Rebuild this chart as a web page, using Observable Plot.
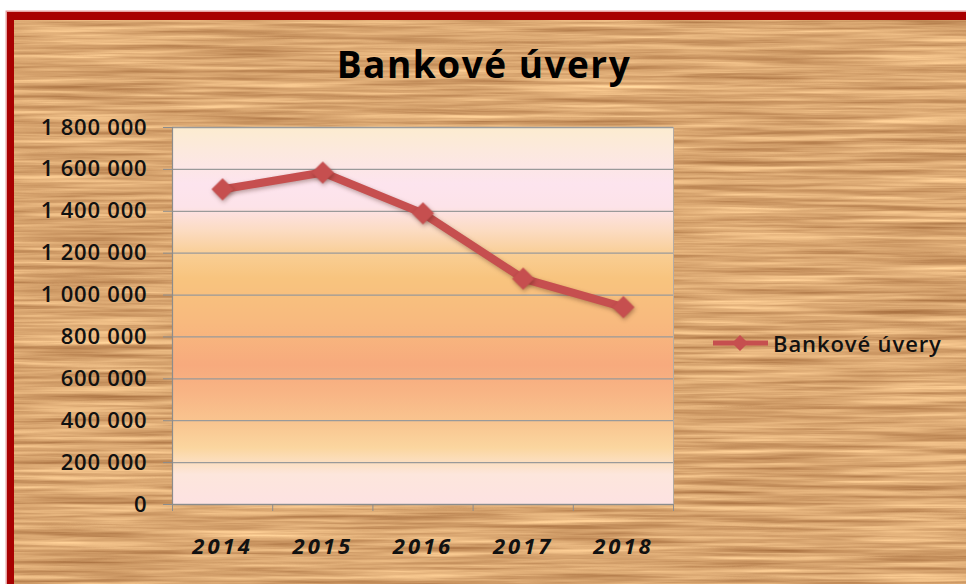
<!DOCTYPE html>
<html>
<head>
<meta charset="utf-8">
<script src="https://cdn.jsdelivr.net/npm/d3@7"></script>
<script src="https://cdn.jsdelivr.net/npm/@observablehq/plot@0.6"></script>
<style>
  html, body { margin: 0; padding: 0; background: #fff; }
  body { width: 966px; height: 584px; overflow: hidden; position: relative; font-family: "Open Sans", sans-serif; }
  #frame { position: absolute; left: 7px; top: 12px; width: 1000px; height: 640px;
           border: 7px solid #a80000; border-top-width: 8px; box-shadow: 0 0 0 1.5px #e6a0a0; overflow: hidden; }
  #wood { position: absolute; left: 0; top: 0; }
  #title { position: absolute; left: 0; width: 968px; top: 45px; text-align: center;
           font-size: 37px; line-height: 37px; font-weight: 700; letter-spacing: 1.5px; color: #000; }
  #chart { position: absolute; left: 0; top: 0; }
  #legend { position: absolute; left: 713px; top: 332px; height: 22px; display: flex; align-items: center; }
  #legend span { font-size: 22px; line-height: 22px; font-weight: 600; color: #111; margin-left: 4px; letter-spacing: 0.9px; }
  #chart g[aria-label="dot"], #chart g[aria-label="line"] { filter: drop-shadow(1px 2px 2px rgba(60,20,10,0.35)); }
  #chart g[aria-label="x-axis tick label"] text { letter-spacing: 3px; }
  #chart g[aria-label="y-axis tick label"] text { letter-spacing: 0.8px; }
</style>
</head>
<body>
<div id="frame">
  <svg id="wood" width="1000" height="640">
    <filter id="woodf" x="0" y="0" width="100%" height="100%" color-interpolation-filters="sRGB">
      <feTurbulence type="fractalNoise" baseFrequency="0.006 0.2" numOctaves="4" seed="7"/>
      <feColorMatrix type="matrix" values="0.45 0 0 0 0.625  0.5 0 0 0 0.4  0.45 0 0 0 0.215  0 0 0 0 1"/>
    </filter>
    <rect width="1000" height="640" filter="url(#woodf)"/>
  </svg>
</div>
<div id="title">Bankové úvery</div>
<div id="chart"></div>
<div id="legend"></div>
<script>
// Data
const years = [2014, 2015, 2016, 2017, 2018];
const values = [1505000, 1585000, 1390000, 1078000, 942000];
const yTicks = [0, 200000, 400000, 600000, 800000, 1000000, 1200000, 1400000, 1600000, 1800000];
const seriesName = "Bankové úvery";
const lineColor = "#c64f4f";

const data = years.map((y, i) => ({year: y, value: values[i]}));
const boundaries = [years[0] - 0.5, ...years.map(y => y + 0.5)];

const gradStops = [
  [0.00, "#fcecd0"], [0.06, "#fce9dd"], [0.15, "#fde4ee"], [0.21, "#fde3e9"],
  [0.27, "#fcdcc4"], [0.34, "#f9cd92"], [0.40, "#f8c47e"], [0.52, "#f8b97e"],
  [0.63, "#f7aa7d"], [0.70, "#f8b484"], [0.78, "#f9c48f"], [0.85, "#fbd69f"],
  [0.92, "#fde6dc"], [1.00, "#fde2e2"]
];

function gradientDefs() {
  const ns = "http://www.w3.org/2000/svg";
  const defs = document.createElementNS(ns, "defs");
  const lg = document.createElementNS(ns, "linearGradient");
  lg.setAttribute("id", "plotbg");
  lg.setAttribute("x1", "0"); lg.setAttribute("y1", "0");
  lg.setAttribute("x2", "0"); lg.setAttribute("y2", "1");
  for (const [o, c] of gradStops) {
    const s = document.createElementNS(ns, "stop");
    s.setAttribute("offset", o);
    s.setAttribute("stop-color", c);
    lg.appendChild(s);
  }
  defs.appendChild(lg);
  return defs;
}

const fmt = d => d3.format(",")(d).replace(/,/g, "\u00a0");

const chart = Plot.plot({
  width: 700,
  height: 584,
  marginLeft: 172,
  marginRight: 27,
  marginTop: 127,
  marginBottom: 80,
  style: {background: "transparent", fontFamily: "Open Sans", overflow: "visible"},
  x: {type: "linear", domain: [boundaries[0], boundaries[boundaries.length - 1]]},
  y: {domain: [0, 1800000]},
  marks: [
    gradientDefs,
    Plot.frame({fill: "url(#plotbg)", stroke: "#b4aca4", strokeWidth: 1}),
    Plot.gridY(yTicks, {stroke: "#9a9a9a", strokeOpacity: 1, strokeWidth: 1.3}),
    Plot.ruleX([boundaries[0]], {stroke: "#8c8c8c", strokeWidth: 1.2}),
    Plot.ruleY([0], {stroke: "#8c8c8c", strokeWidth: 1.2}),
    Plot.axisY({ticks: yTicks, tickSize: 9, tickPadding: 16, tickFormat: fmt, label: null,
                fontSize: 22, fontWeight: 600, fill: "#111", stroke: "#8c8c8c"}),
    Plot.axisX({ticks: boundaries, tickSize: 7, tickFormat: () => "", label: null, stroke: "#8c8c8c"}),
    Plot.axisX({ticks: years, tickSize: 0, tickPadding: 34, tickFormat: d => String(d), label: null,
                fontSize: 22, fontWeight: 700, fontStyle: "italic", fill: "#111"}),
    Plot.line(data, {x: "year", y: "value", stroke: lineColor, strokeWidth: 8, strokeLinejoin: "round"}),
    Plot.dot(data, {x: "year", y: "value", symbol: "diamond2", r: 10, fill: lineColor, stroke: "none"})
  ]
});
document.getElementById("chart").appendChild(chart);

// Legend
const legend = document.getElementById("legend");
legend.innerHTML = `<svg width="56" height="22"><line x1="0" x2="55" y1="11" y2="11" stroke="${lineColor}" stroke-width="5"/><path d="M27,3 L35,11 L27,19 L19,11 Z" fill="${lineColor}"/></svg><span>${seriesName}</span>`;
</script>
</body>
</html>
